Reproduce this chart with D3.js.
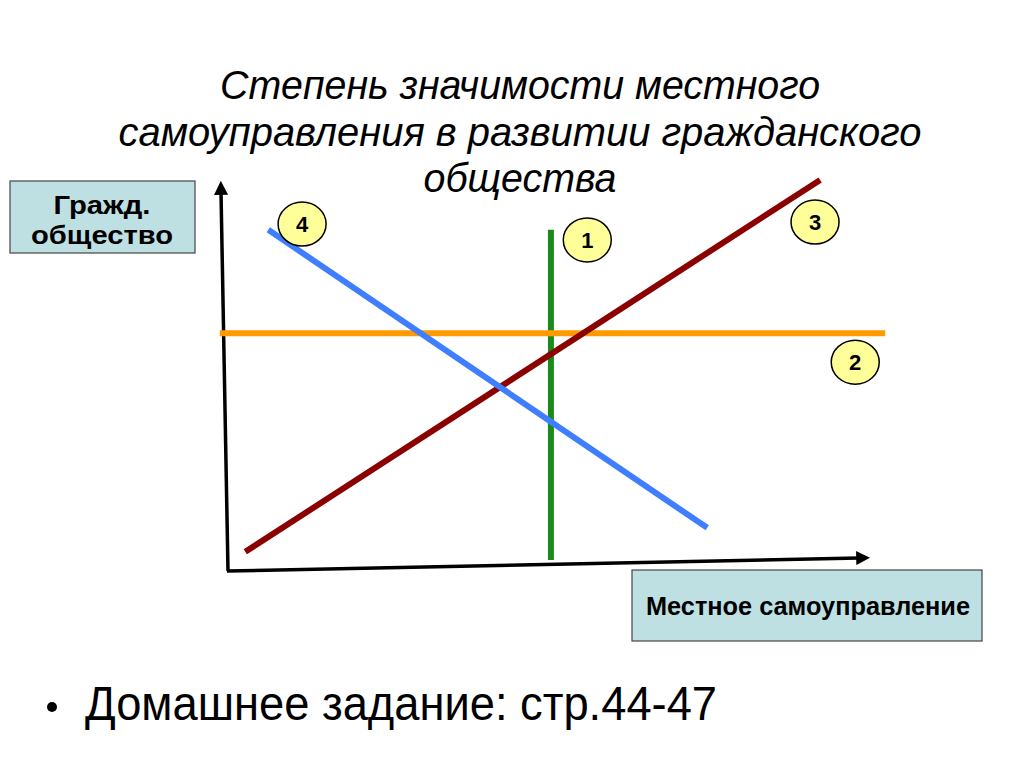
<!DOCTYPE html>
<html>
<head>
<meta charset="utf-8">
<script src="https://cdn.jsdelivr.net/npm/d3@7"></script>
<style>
  html, body { margin: 0; padding: 0; background: #fff; }
  text { font-family: "Liberation Sans", Arial, sans-serif; }
</style>
</head>
<body>
<div id="viz"></div>
<script>
const width = 1024;
const height = 767;

// Lines on the scheme: id, color, start [x, y], end [x, y] (data units 0..10)
const lineIds = ['1', '2', '3', '4'];
const lineColors = ['#1a8a1a', '#ff9a00', '#8b0000', '#3f7fff'];
const lineStarts = [[5.03, 0.26], [-0.16, 6.12], [0.24, 0.47], [0.6, 8.79]];
const lineEnds = [[5.03, 8.79], [10.27, 6.12], [9.25, 10.08], [7.48, 1.09]];

// Numbered labels placed next to the lines
const badgeLabels = ['4', '1', '3', '2'];
const badgePos = [[1.13, 8.94], [5.6, 8.53], [9.17, 8.99], [9.8, 5.37]];

const titleLines = ['Степень значимости местного', 'самоуправления в развитии гражданского', 'общества'];
const yLabel = ['Гражд.', 'общество'];
const xLabel = 'Местное самоуправление';
const bulletText = 'Домашнее задание: стр.44-47';

const xScale = d3.scaleLinear().domain([0, 10]).range([230, 868]);
const yScale = d3.scaleLinear().domain([0, 10]).range([570, 183]);

const svg = d3.select('#viz')
  .append('svg')
  .attr('width', width)
  .attr('height', height);

const defs = svg.append('defs');
defs.append('marker')
    .attr('id', 'arrow')
    .attr('viewBox', '0 0 10 10')
    .attr('refX', 2)
    .attr('refY', 5)
    .attr('markerWidth', 4)
    .attr('markerHeight', 4)
    .attr('orient', 'auto')
  .append('path')
    .attr('d', 'M0,0 L10,5 L0,10 Z')
    .attr('fill', '#000');

// title
svg.append('g')
  .selectAll('text')
  .data(titleLines)
  .join('text')
    .attr('x', 520)
    .attr('y', (d, i) => [99, 146, 192][i])
    .attr('text-anchor', 'middle')
    .attr('font-size', 40)
    .attr('font-style', 'italic')
    .attr('textLength', (d, i) => [600, 803, 193][i])
    .attr('lengthAdjust', 'spacingAndGlyphs')
    .attr('fill', '#000')
    .text(d => d);

// axes (drawn by hand, slightly tilted as on the slide)
svg.append('line')
  .attr('x1', 228).attr('y1', 571)
  .attr('x2', 221).attr('y2', 192)
  .attr('stroke', '#000').attr('stroke-width', 3.5)
  .attr('marker-end', 'url(#arrow)');
svg.append('line')
  .attr('x1', 227).attr('y1', 571)
  .attr('x2', 859).attr('y2', 558)
  .attr('stroke', '#000').attr('stroke-width', 3.5)
  .attr('marker-end', 'url(#arrow)');

// the four lines
svg.append('g')
  .selectAll('line')
  .data(lineIds)
  .join('line')
    .attr('x1', (d, i) => xScale(lineStarts[i][0]))
    .attr('y1', (d, i) => yScale(lineStarts[i][1]))
    .attr('x2', (d, i) => xScale(lineEnds[i][0]))
    .attr('y2', (d, i) => yScale(lineEnds[i][1]))
    .attr('stroke', (d, i) => lineColors[i])
    .attr('stroke-width', 6);

// numbered badges
const badges = svg.append('g')
  .selectAll('g')
  .data(badgeLabels)
  .join('g')
    .attr('transform', (d, i) => `translate(${xScale(badgePos[i][0])},${yScale(badgePos[i][1])})`);
badges.append('ellipse')
  .attr('rx', 24).attr('ry', 22)
  .attr('fill', '#ffff99')
  .attr('stroke', '#000')
  .attr('stroke-width', 1.5);
badges.append('text')
  .attr('y', 8)
  .attr('text-anchor', 'middle')
  .attr('font-weight', 'bold')
  .attr('font-size', 22)
  .text(d => d);

// y label box
svg.append('rect')
  .attr('x', 10).attr('y', 181)
  .attr('width', 185).attr('height', 72)
  .attr('fill', '#bfe0e3')
  .attr('stroke', '#444').attr('stroke-width', 1.2);
svg.append('g')
  .selectAll('text')
  .data(yLabel)
  .join('text')
    .attr('x', 102)
    .attr('y', (d, i) => 214 + i * 30)
    .attr('text-anchor', 'middle')
    .attr('font-weight', 'bold')
    .attr('font-size', 25)
    .attr('textLength', (d, i) => [97, 142][i])
    .attr('lengthAdjust', 'spacingAndGlyphs')
    .text(d => d);

// x label box
svg.append('rect')
  .attr('x', 632).attr('y', 570)
  .attr('width', 350).attr('height', 71)
  .attr('fill', '#bfe0e3')
  .attr('stroke', '#444').attr('stroke-width', 1.2);
svg.append('text')
  .attr('x', 808)
  .attr('y', 615)
  .attr('text-anchor', 'middle')
  .attr('font-weight', 'bold')
  .attr('font-size', 25)
  .attr('textLength', 324)
  .attr('lengthAdjust', 'spacingAndGlyphs')
  .text(xLabel);

// bullet line
svg.append('circle')
  .attr('cx', 52).attr('cy', 707)
  .attr('r', 5)
  .attr('fill', '#000');
svg.append('text')
  .attr('x', 85)
  .attr('y', 720)
  .attr('font-size', 48)
  .attr('textLength', 632)
  .attr('lengthAdjust', 'spacingAndGlyphs')
  .text(bulletText);
</script>
</body>
</html>
